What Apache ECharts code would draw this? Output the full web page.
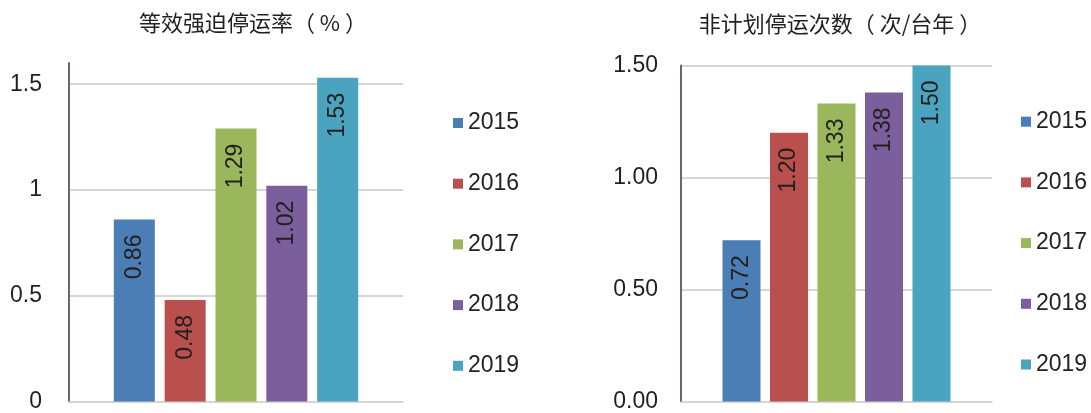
<!DOCTYPE html>
<html>
<head>
<meta charset="utf-8">
<script src="https://cdn.jsdelivr.net/npm/echarts@6/dist/echarts.min.js"></script>
<style>
  html, body { margin: 0; padding: 0; background: #fff; }
  #chart { width: 1091px; height: 413px; }
</style>
</head>
<body>
<div id="chart"></div>
<script>
// 数据
const years = ['2015', '2016', '2017', '2018', '2019']
const forcedOutageRate = [0.86, 0.48, 1.29, 1.02, 1.53]   // 等效强迫停运率（%）
const unplannedOutages = [0.72, 1.20, 1.33, 1.38, 1.50]   // 非计划停运次数（次/台年）
const leftTicks = { min: 0, max: 1.6, interval: 0.5 }
const rightTicks = { min: 0, max: 1.5, interval: 0.5 }

const COLORS = ['#4A7EB4', '#B9504D', '#9AB75B', '#7A5F9C', '#4AA4BF']
const TEXT = '#231F20'
const FONT = '"Liberation Sans", Arial, "Noto Sans CJK SC", sans-serif'
const CJK = '"Noto Sans CJK SC", sans-serif'

const chart = echarts.init(document.getElementById('chart'), null, { renderer: 'canvas' })

function barSeries(values, axisIdx, width, gap) {
  return years.map((y, i) => ({
    name: y,
    type: 'bar',
    xAxisIndex: axisIdx,
    yAxisIndex: axisIdx,
    barWidth: width,
    barGap: gap,
    itemStyle: { color: COLORS[i] },
    label: {
      show: true,
      position: 'insideTop',
      rotate: 90,
      align: 'right',
      verticalAlign: 'middle',
      distance: 15,
      color: TEXT,
      fontSize: 23,
      fontFamily: FONT,
      formatter: (p) => p.value.toFixed(2),
    },
    data: [values[i]],
  }))
}

function yAxis(ticks, grid, margin, decimals) {
  const onTick = ticks.max % ticks.interval === 0
  return {
    type: 'value',
    gridIndex: grid,
    min: ticks.min,
    max: ticks.max,
    interval: ticks.interval,
    axisLine: { show: true, lineStyle: { color: '#6E6767', width: 2 } },
    axisTick: { show: false },
    axisLabel: {
      color: TEXT,
      fontSize: 23,
      fontFamily: FONT,
      margin: margin,
      showMaxLabel: onTick,
      formatter: (v) => (decimals ? v.toFixed(decimals) : String(v)),
    },
    splitLine: {
      show: true,
      showMinLine: false,
      showMaxLine: onTick,
      lineStyle: { color: '#C8C8C8', width: 1.5 },
    },
  }
}

function xAxis(grid) {
  return {
    type: 'category',
    gridIndex: grid,
    data: [''],
    axisLine: { show: true, lineStyle: { color: '#C8C8C8', width: 1.5 } },
    axisTick: { show: false },
    axisLabel: { show: false },
  }
}

function legend(left, top) {
  return {
    data: years,
    orient: 'vertical',
    left: left,
    top: top,
    padding: 0,
    itemWidth: 10,
    itemHeight: 10,
    itemGap: 37.7,
    icon: 'rect',
    textStyle: { color: TEXT, fontSize: 23, fontFamily: FONT, lineHeight: 23 },
  }
}

function title(text, x, y) {
  return {
    text: text,
    left: x,
    top: y,
    padding: 0,
    textAlign: 'center',
    textStyle: { color: TEXT, fontSize: 22, fontWeight: 'normal', fontFamily: CJK },
  }
}

const option = {
  animation: false,
  backgroundColor: '#fff',
  title: [
    title('等效强迫停运率（ % ）', 253, 12),
    title('非计划停运次数（ 次/台年 ）', 840, 13),
  ],
  legend: [legend(453, 111.5), legend(1021, 110.2)],
  grid: [
    { left: 69, top: 63, width: 334, height: 341 },
    { left: 681, top: 65.5, width: 311, height: 338 },
  ],
  xAxis: [xAxis(0), xAxis(1)],
  yAxis: [yAxis(leftTicks, 0, 27, 0), yAxis(rightTicks, 1, 23, 2)],
  series: [
    ...barSeries(forcedOutageRate, 0, 41, '24%'),
    ...barSeries(unplannedOutages, 1, 38, '25%'),
  ],
}

chart.setOption(option)
</script>
</body>
</html>
